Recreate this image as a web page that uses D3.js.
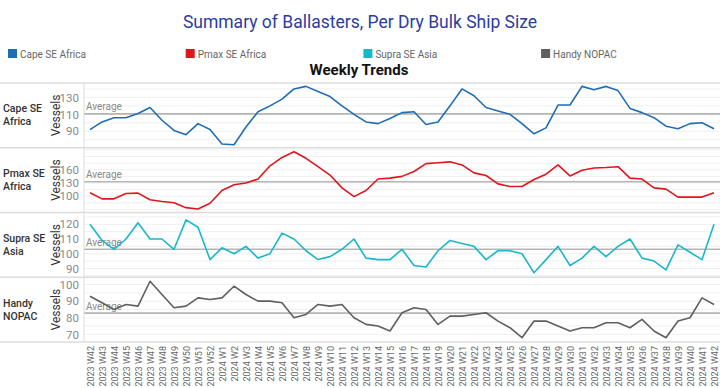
<!DOCTYPE html>
<html><head><meta charset="utf-8">
<script src="https://cdn.jsdelivr.net/npm/d3@7"></script>
<style>body{margin:0;background:#fff}svg{display:block}</style>
</head><body>
<svg id="c" width="720" height="388"></svg>
<script>
const weeks = [];
for (let w = 42; w <= 52; w++) weeks.push("2023 W" + w);
for (let w = 1; w <= 42; w++) weeks.push("2024 W" + w);

const seriesNames = ["Cape SE Africa", "Pmax SE Africa", "Supra SE Asia", "Handy NOPAC"];
const rowLabels = [["Cape SE", "Africa"], ["Pmax SE", "Africa"], ["Supra SE", "Asia"], ["Handy", "NOPAC"]];
const colors = ["#1f6db5", "#e0161d", "#19b7ca", "#5f5f5f"];

const cape = [92,101,106,106,111,118,103,91,86,99,92,75,74,95,113,120,128,140,143,137,131,120,110,101,99,105,112,113,98,101,120,140,132,118,114,110,99,87,94,121,121,143,139,143,138,117,112,106,96,93,99,100,93];
const pmax = [108,94,94,106,107,92,88,85,74,71,84,113,126,130,139,169,188,201,186,167,148,119,99,113,139,141,145,156,174,176,178,171,153,147,128,122,122,138,150,171,146,159,164,165,167,141,139,119,116,98,98,98,108];
const supra = [120,109,103,110,121,110,110,103,123,118,96,104,100,105,97,100,114,110,102,96,98,103,110,97,96,96,103,92,91,102,109,107,105,96,102,102,100,87,96,105,92,97,105,98,105,110,97,95,89,106,101,96,120];
const handy = [93,89,85,88,87,102,94,86,87,92,91,92,99,94,90,90,89,80,82,88,87,88,80,76,75,72,83,86,85,76,81,81,82,83,78,74,68,78,78,75,72,74,74,77,77,74,79,72,68,78,80,92,88];

const seriesValues = [cape, pmax, supra, handy];
const yDomains = [[70.5,147],[63,210],[84,128],[65.4,104.4]];
const yTicks = [[90,110,130],[100,130,160],[90,100,110,120],[70,80,90,100]];
const gridTicks = [[80,90,100,110,120,130,140],[70,85,100,115,130,145,160,175,190,205],[85,90,95,100,105,110,115,120,125],[70,75,80,85,90,95,100]];

const svg = d3.select("#c");
const W = 720, plotL = 84, plotR = 720;
const top0 = 83, panelH = 64.75;

// title
svg.append("text").attr("x", 360).attr("y", 28).attr("text-anchor", "middle")
  .attr("font-family", "Roboto, sans-serif").attr("font-size", 17.5).attr("fill", "#2b3ea0")
  .text("Summary of Ballasters, Per Dry Bulk Ship Size");

// legend
seriesNames.forEach((n, i) => {
  const g = svg.append("g").attr("transform", `translate(${8 + i * 177.7},54)`);
  g.append("rect").attr("x", 0).attr("y", -5).attr("width", 9).attr("height", 9).attr("fill", colors[i]);
  g.append("text").attr("x", 12).attr("y", 3.5).attr("font-family", "Roboto, sans-serif")
    .attr("font-size", 10).attr("fill", "#666").text(n);
});

svg.append("text").attr("x", 359).attr("y", 75).attr("text-anchor", "middle")
  .attr("font-family", "Roboto, sans-serif").attr("font-weight", "bold").attr("font-size", 15)
  .attr("fill", "#111").text("Weekly Trends");

const x = d3.scalePoint().domain(weeks).range([90, 714]);

seriesValues.forEach((vals, k) => {
  const y0 = top0 + k * panelH, y1 = y0 + panelH;
  const y = d3.scaleLinear().domain(yDomains[k]).range([y1, y0]);
  const g = svg.append("g");
  // minor grid
  g.selectAll("line.grid").data(gridTicks[k]).join("line")
    .attr("x1", plotL).attr("x2", plotR).attr("y1", d => y(d)).attr("y2", d => y(d))
    .attr("stroke", "#f0f0f0").attr("stroke-width", 1);
  // y axis labels
  const ax = d3.axisLeft(y).tickValues(yTicks[k]).tickSize(0).tickPadding(4);
  const ag = g.append("g").attr("transform", `translate(${plotL - 1},0)`).call(ax);
  ag.select(".domain").remove();
  ag.selectAll("text").attr("font-family", "Roboto, sans-serif").attr("font-size", 11.5).attr("fill", "#8a8a8a");
  // average
  const avg = d3.mean(vals);
  g.append("line").attr("x1", plotL).attr("x2", plotR).attr("y1", y(avg)).attr("y2", y(avg))
    .attr("stroke", "#b5b5b5").attr("stroke-width", 1.6);
  g.append("text").attr("x", plotL + 2).attr("y", y(avg) - 3.5).attr("font-family", "Roboto, sans-serif")
    .attr("font-size", 10).attr("fill", "#8a8a8a").text("Average");
  // line
  const line = d3.line().x((d, i) => x(weeks[i])).y(d => y(d));
  g.append("path").datum(vals).attr("d", line).attr("fill", "none")
    .attr("stroke", colors[k]).attr("stroke-width", 1.6).attr("stroke-linejoin", "round");
  // row label
  const cy = (y0 + y1) / 2;
  rowLabels[k].forEach((t, j) => {
    g.append("text").attr("x", 3).attr("y", cy - 3 + j * 13).attr("font-family", "Roboto, sans-serif")
      .attr("font-size", 10.5).attr("font-weight", 500).attr("fill", "#333").text(t);
  });
  g.append("text").attr("transform", `translate(${57},${cy}) rotate(-90)`).attr("text-anchor", "middle")
    .attr("dominant-baseline", "middle").attr("font-family", "Roboto, sans-serif")
    .attr("font-size", 12).attr("fill", "#333").text("Vessels");
});

// separators
d3.range(5).forEach(k => {
  const yy = top0 + k * panelH;
  svg.append("line").attr("x1", 0).attr("x2", W).attr("y1", yy).attr("y2", yy)
    .attr("stroke", "#dcdcdc").attr("stroke-width", 1.5);
});
svg.append("line").attr("x1", plotL).attr("x2", plotL).attr("y1", top0).attr("y2", top0 + 4 * panelH)
  .attr("stroke", "#dcdcdc").attr("stroke-width", 1);

// x axis
const xa = svg.append("g").attr("transform", `translate(0,${top0 + 4 * panelH + 3})`)
  .call(d3.axisBottom(x).tickSize(0).tickPadding(0));
xa.select(".domain").remove();
xa.selectAll("text").attr("transform", "rotate(-90)").attr("text-anchor", "end")
  .attr("dy", "0.35em").attr("x", -1).attr("y", 0)
  .attr("font-family", "Roboto, sans-serif").attr("font-size", 9).attr("fill", "#666");
</script>
</body></html>
